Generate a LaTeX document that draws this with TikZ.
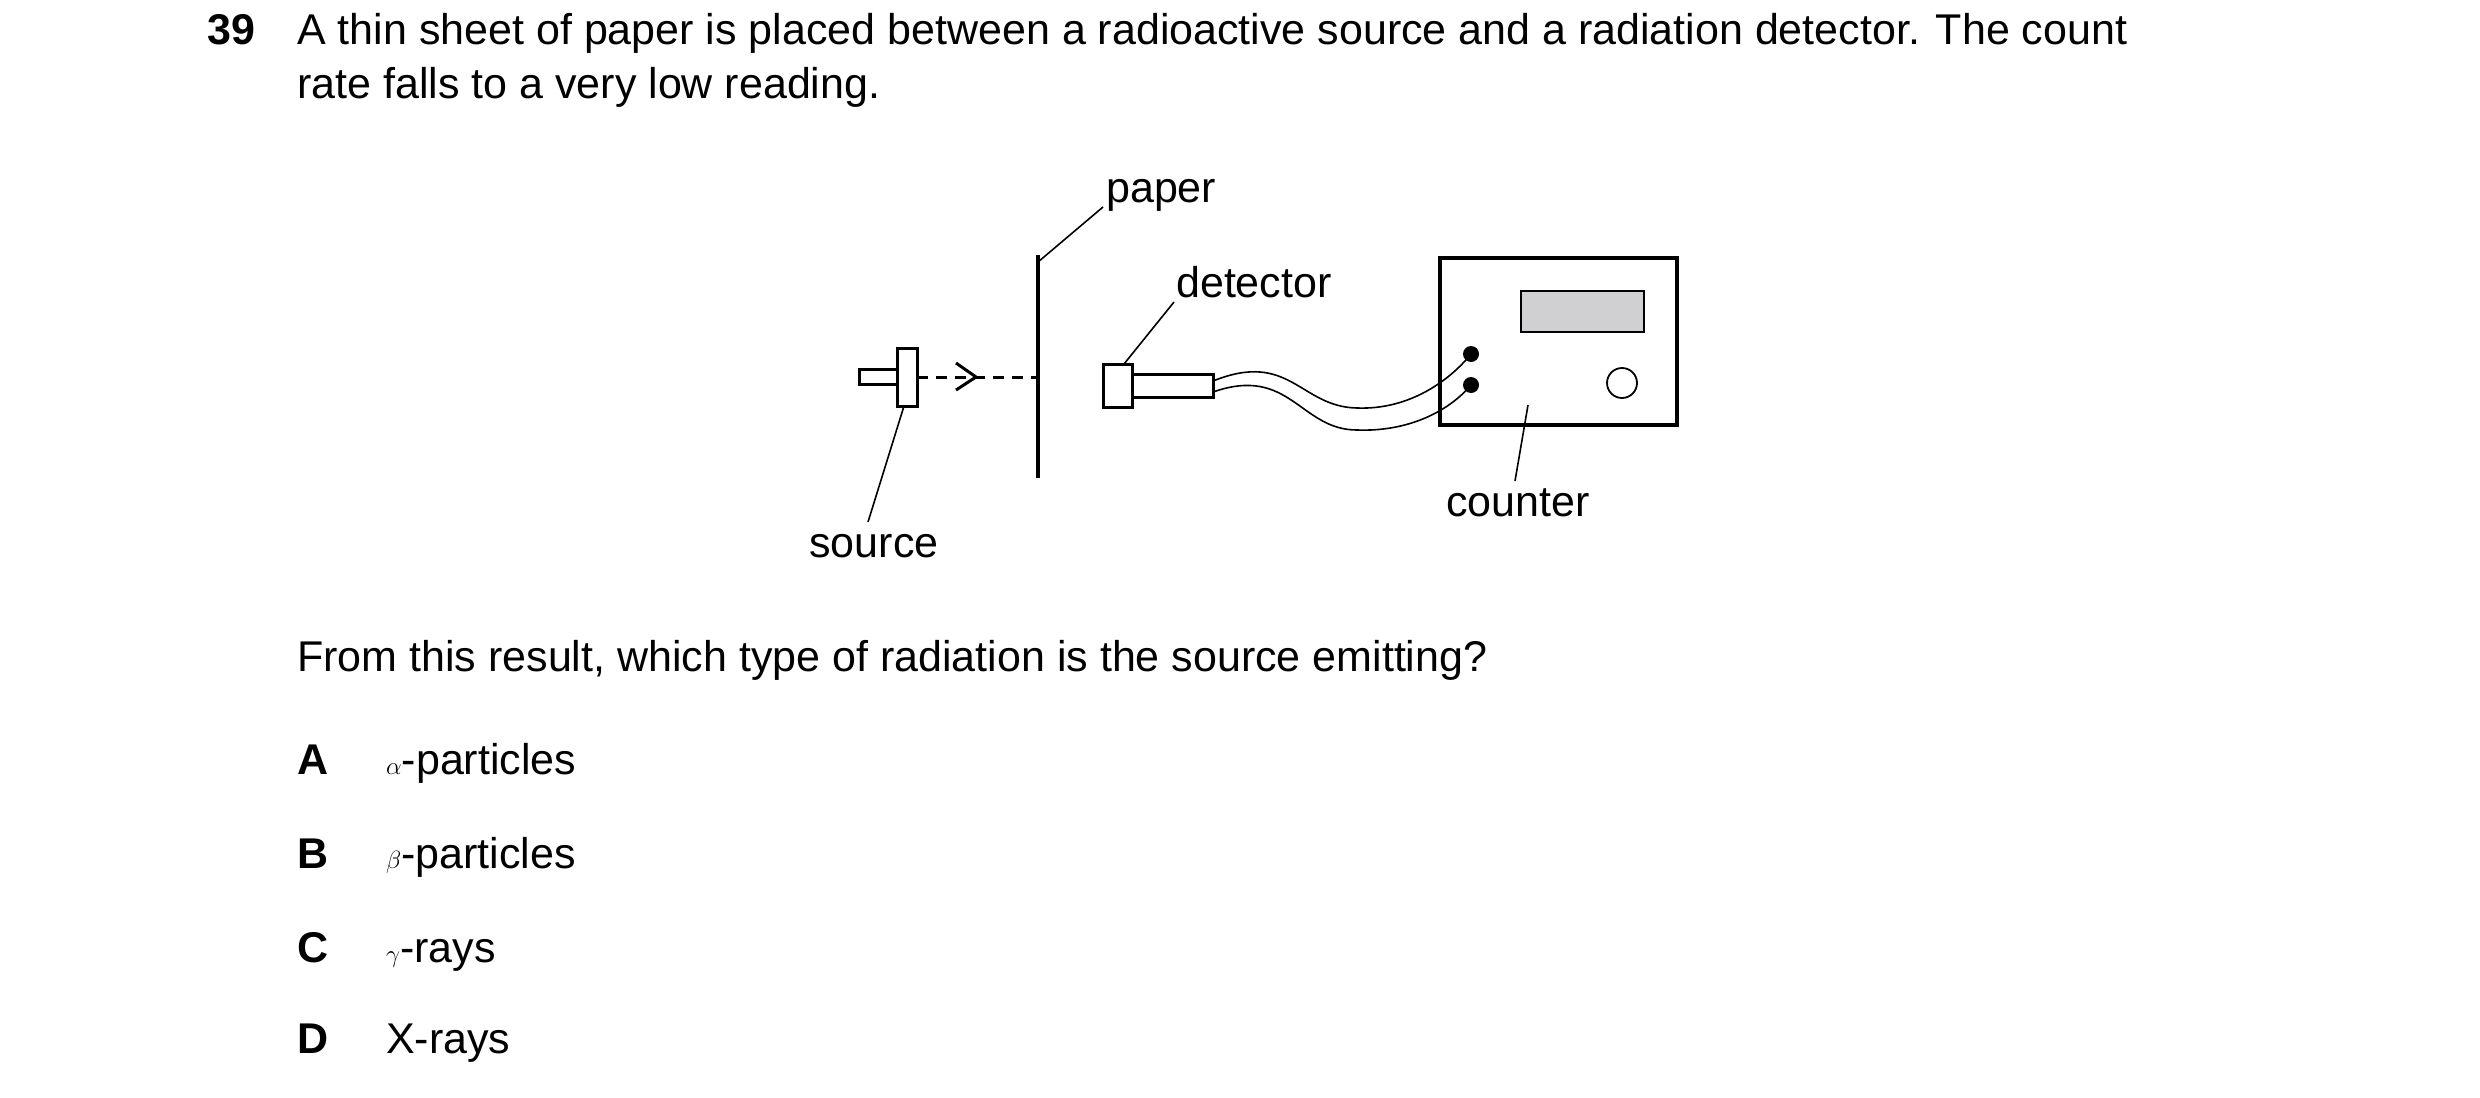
\documentclass[tikz,border=0pt]{standalone}
\usepackage{fontspec}
\setmainfont{Liberation Sans}
\begin{document}
\begin{tikzpicture}[x=1pt,y=-1pt,
  txt/.style={anchor=base west,inner sep=0pt,font=\fontsize{43}{54}\selectfont},
  lbl/.style={inner sep=0pt,font=\fontsize{43}{54}\selectfont},
  thin line/.style={line width=1.6pt},
  part/.style={line width=3pt}]
\useasboundingbox (0,0) rectangle (2480,1097);
% question text
\node[txt,font=\fontsize{43}{54}\selectfont\bfseries] (num) at (207,45) {39};
\node[txt] (l1) at (297,45) {A thin sheet of paper is placed between a radioactive source and a radiation detector. The count};
\node[txt] (l2) at (297,99) {rate falls to a very low reading.};
\node[txt] (q) at (297,671) {From this result, which type of radiation is the source emitting?};
\node[txt,font=\fontsize{43}{54}\selectfont\bfseries] (A) at (297,774) {A};
\node[txt] (a) at (386,774) {$\alpha$-particles};
\node[txt,font=\fontsize{43}{54}\selectfont\bfseries] (B) at (297,868) {B};
\node[txt] (b) at (386,868) {$\beta$-particles};
\node[txt,font=\fontsize{43}{54}\selectfont\bfseries] (C) at (297,962) {C};
\node[txt] (c) at (386,962) {$\gamma$-rays};
\node[txt,font=\fontsize{43}{54}\selectfont\bfseries] (D) at (297,1053) {D};
\node[txt] (d) at (386,1053) {X-rays};
% source
\draw[part] (859,369) rectangle (897,384);
\draw[part,fill=white] (897,348) rectangle (917,406);
\coordinate (srcR) at (917,377);
\coordinate (papM) at (1038,377);
\draw[part,dash pattern=on 11pt off 8pt] (srcR) -- (papM);
\draw[part] (956,363) -- (976,377) -- (956,390);
% paper
\coordinate (papT) at (1038,255);
\coordinate (papB) at (1038,478);
\draw[line width=3.5pt] (papT) -- (papB);
% detector
\draw[part] (1103,364) rectangle (1132,407);
\draw[part] (1132,374) rectangle (1213,397);
% counter
\draw[line width=4pt] (1440,258) rectangle (1677,425);
\draw[line width=2pt,fill={rgb,255:red,208;green,208;blue,210}] (1521,291) rectangle (1644,332);
\fill (1471,354) circle (8);
\fill (1471,385) circle (8);
\draw[line width=1.8pt] (1622,383) circle (15);
% wires
\draw[thin line] (1213,381) .. controls (1290,350) and (1300,407) .. (1357,408) .. controls (1410,410) and (1450,380) .. (1471,354);
\draw[thin line] (1213,392) .. controls (1290,365) and (1300,430) .. (1357,430) .. controls (1410,432) and (1450,410) .. (1471,385);
% labels
\node[txt] (paper) at (1106,202) {paper};
\draw[thin line] (1038,262) -- (1103,207);
\node[txt] (det) at (1176,297) {detector};
\draw[thin line] (1124,364) -- (1174,302);
\node[lbl,anchor=base] (src) at (874,557) {source};
\draw[thin line] (904,406) -- (868,522);
\node[lbl,anchor=base] (cnt) at (1518,516) {counter};
\draw[thin line] (1528,405) -- (1515,481);
\end{tikzpicture}
\end{document}
